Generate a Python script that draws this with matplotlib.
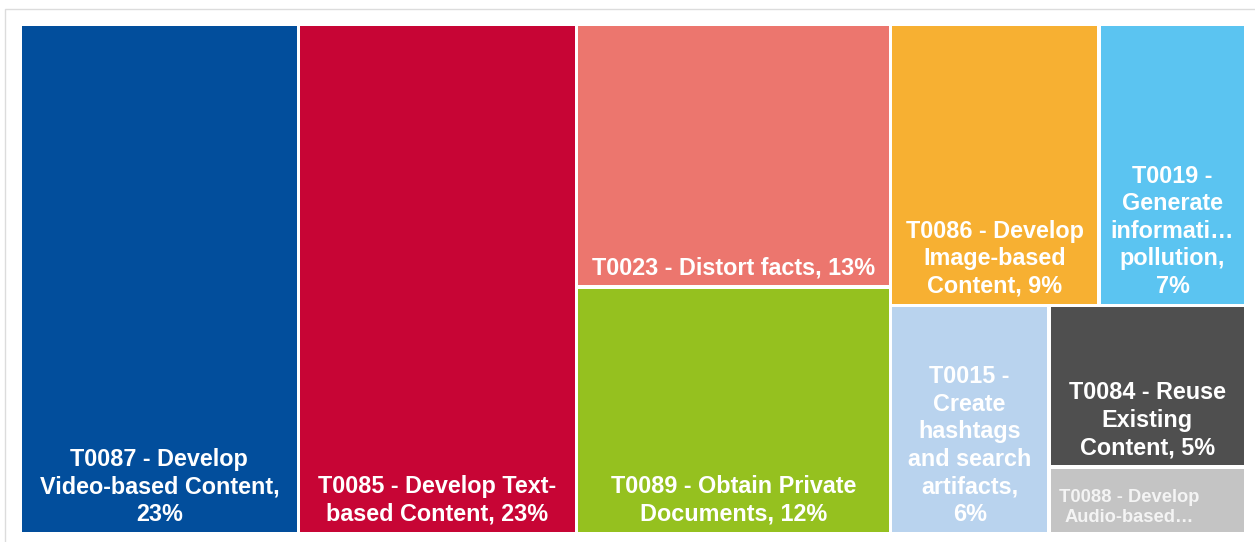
import matplotlib.pyplot as plt
from matplotlib.patches import Rectangle

# share of each technique (percent)
codes = ["T0087", "T0085", "T0023", "T0089", "T0086", "T0019", "T0015", "T0084", "T0088"]
shares = [22.7, 22.7, 13.2, 12.4, 9.4, 6.6, 5.8, 5.1, 2.1]
labels = [
    "T0087 - Develop\nVideo-based Content,\n{}%",
    "T0085 - Develop Text-\nbased Content, {}%",
    "T0023 - Distort facts, {}%",
    "T0089 - Obtain Private\nDocuments, {}%",
    "T0086 - Develop\nImage-based\nContent, {}%",
    "T0019 -\nGenerate\ninformati\u2026\npollution,\n{}%",
    "T0015 -\nCreate\nhashtags\nand search\nartifacts,\n{}%",
    "T0084 - Reuse\nExisting\nContent, {}%",
    "T0088 - Develop\nAudio-based\u2026",
]
colors = ["#024E9C", "#C70535", "#EC766E", "#95C11F", "#F7B032",
          "#5BC4F1", "#B9D3EE", "#4F4F4F", "#C4C4C4"]
text_colors = ["white"] * 8 + ["#F4F4F4"]
font_sizes = [16.8] * 8 + [13.2]


def worst(row, side):
    s = sum(row)
    return max(max(side ** 2 * r / s ** 2, s ** 2 / (side ** 2 * r)) for r in row)


def squarify(values, x, y, w, h):
    scale = w * h / sum(values)
    areas = [v * scale for v in values]
    rects = []
    while areas:
        side = min(w, h)
        row = [areas[0]]
        i = 1
        while i < len(areas) and worst(row + [areas[i]], side) <= worst(row, side):
            row.append(areas[i])
            i += 1
        areas = areas[i:]
        s = sum(row)
        if w >= h:
            cw = s / h
            yy = y
            for a in row:
                rects.append((x, yy, cw, a / cw))
                yy += a / cw
            x += cw
            w -= cw
        else:
            rh = s / w
            xx = x
            for a in row:
                rects.append((xx, y, a / rh, rh))
                xx += a / rh
            y += rh
            h -= rh
    return rects


W, H = 1225.5, 509.5
gap = 1.75

fig = plt.figure(figsize=(12.55, 5.42), dpi=100)
fig.patches.append(Rectangle((5 / 1255, -0.1), 1.2, 1.1 - 9 / 542, fill=False,
                             edgecolor="#DCDCDC", lw=1, transform=fig.transFigure))
ax = fig.add_axes([20.25 / 1255, 8.25 / 542, W / 1255, H / 542])
ax.set_xlim(0, W)
ax.set_ylim(H, 0)
ax.axis("off")

for (x, y, w, h), share, lab, c, tc, fs in zip(squarify(shares, 0, 0, W, H), shares,
                                               labels, colors, text_colors, font_sizes):
    ax.add_patch(Rectangle((x + gap, y + gap), w - 2 * gap, h - 2 * gap,
                           facecolor=c, edgecolor="none"))
    # the truncated label of the smallest box sits to the left
    if lab.endswith("\u2026"):
        tx, ha = x + gap + 8, "left"
    else:
        tx, ha = x + w / 2, "center"
    ax.text(tx, y + h - gap - 6, lab.format(round(share)), ha=ha, va="bottom",
            color=tc, fontsize=fs, fontweight="bold", family="Liberation Sans",
            linespacing=1.25, multialignment="center")

fig.savefig("out.png", dpi=100)
